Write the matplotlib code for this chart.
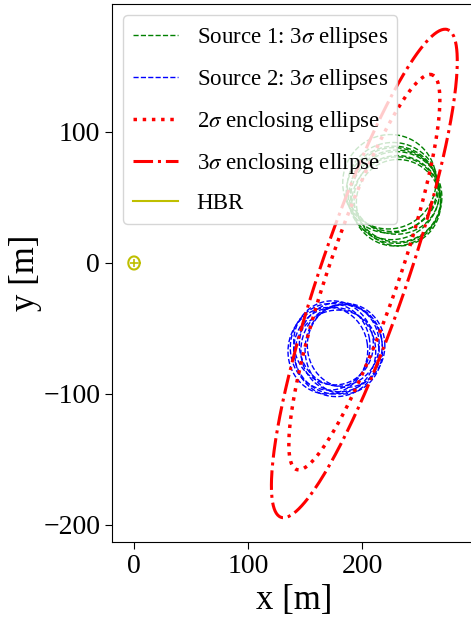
import numpy as np
import matplotlib
matplotlib.use("Agg")
import matplotlib.pyplot as plt

plt.rcParams["font.family"] = "serif"
plt.rcParams["font.serif"] = ["Liberation Serif", "DejaVu Serif"]
plt.rcParams["mathtext.fontset"] = "stix"

# source 1 covariance ellipses (3 sigma): centre, semi-axes [m], tilt [deg]
src1_cx = [224, 227, 229, 228, 231, 230, 232, 226, 230]
src1_cy = [62, 58, 55, 52, 49, 47, 46, 56, 50]
src1_a = [41, 40, 39, 40, 38, 39, 37, 40, 40]
src1_b = [36, 34, 33, 34, 33, 34, 33, 33, 35]
src1_ang = [5, 0, -5, 10, 0, 5, -3, 8, 2]

# source 2 covariance ellipses (3 sigma)
src2_cx = [172, 176, 180, 184, 178, 175, 182, 186, 170]
src2_cy = [-64, -67, -62, -66, -69, -61, -65, -63, -67]
src2_a = [35, 36, 35, 34, 37, 35, 36, 34, 35]
src2_b = [33, 33, 32, 34, 33, 32, 33, 32, 33]
src2_ang = [10, -5, 0, 15, 5, -10, 20, 0, 8]

# enclosing ellipses
enc2_center = (202, -7)
enc2_axes = (162, 30.4)
enc2_ang = 68.3

enc3_center = (202, -8)
enc3_axes = (200, 37.6)
enc3_ang = 68.4

hbr_radius = 5.0


def ellipse_xy(cx, cy, a, b, ang_deg, n=300):
    t = np.linspace(0, 2 * np.pi, n)
    th = np.deg2rad(ang_deg)
    x = a * np.cos(t)
    y = b * np.sin(t)
    return (cx + x * np.cos(th) - y * np.sin(th),
            cy + x * np.sin(th) + y * np.cos(th))


fig = plt.figure(figsize=(4.71, 6.27), dpi=100)
ax = fig.add_axes([0.2378, 0.1356, 0.773, 0.858])

for i in range(len(src1_cx)):
    x, y = ellipse_xy(src1_cx[i], src1_cy[i], src1_a[i], src1_b[i], src1_ang[i])
    ax.plot(x, y, "g--", lw=1.0,
            label=r"Source 1: 3$\sigma$ ellipses" if i == 0 else None)

for i in range(len(src2_cx)):
    x, y = ellipse_xy(src2_cx[i], src2_cy[i], src2_a[i], src2_b[i], src2_ang[i])
    ax.plot(x, y, "b--", lw=1.0,
            label=r"Source 2: 3$\sigma$ ellipses" if i == 0 else None)

x, y = ellipse_xy(*enc2_center, *enc2_axes, enc2_ang)
ax.plot(x, y, "r:", lw=2.5, label=r"2$\sigma$ enclosing ellipse")

x, y = ellipse_xy(*enc3_center, *enc3_axes, enc3_ang)
ax.plot(x, y, "r-.", lw=2.2, label=r"3$\sigma$ enclosing ellipse")

x, y = ellipse_xy(0, 0, hbr_radius, hbr_radius, 0)
ax.plot(x, y, "y-", lw=1.5, label="HBR")
ax.plot(0, 0, "y+", ms=6, mew=1.2)

ax.set_xlim(-19.3, 300)
ax.set_ylim(-213, 197.7)
ax.set_xticks([0, 100, 200])
ax.set_yticks([-200, -100, 0, 100])
ax.tick_params(labelsize=20, length=5)
ax.set_xlabel("x [m]", fontsize=25)
ax.set_ylabel("y [m]", fontsize=25, labelpad=1)

ax.legend(loc="upper left", fontsize=16.5, handlelength=2.0, labelspacing=0.75)

fig.savefig("out.png", dpi=100)
